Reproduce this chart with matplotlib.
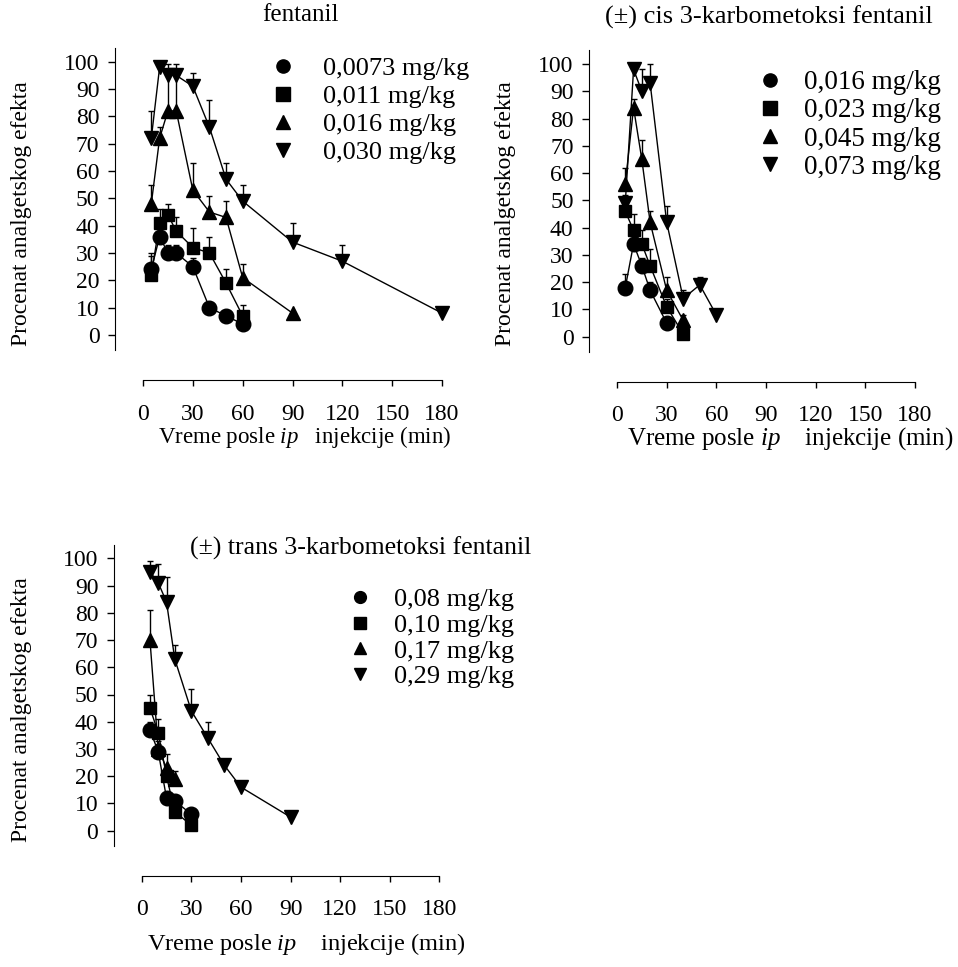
import matplotlib.pyplot as plt
from matplotlib.lines import Line2D

plt.rcParams['font.family'] = ['Liberation Serif', 'DejaVu Serif']
plt.rcParams['mathtext.fontset'] = 'custom'
plt.rcParams['mathtext.rm'] = 'Liberation Serif'
plt.rcParams['mathtext.it'] = 'Liberation Serif:italic'

# fentanil
f_t1 = [5, 10, 15, 20, 30, 40, 50, 60]
f_v1 = [24, 36, 30, 30, 25, 10, 7, 4]
f_e1 = [6, 4, 3, 3, 3, 2, 2, 2]
f_t2 = [5, 10, 15, 20, 30, 40, 50, 60]
f_v2 = [22, 41, 44, 38, 32, 30, 19, 7]
f_e2 = [7, 5, 4, 5, 7, 6, 5, 4]
f_t3 = [5, 10, 15, 20, 30, 40, 50, 60, 90]
f_v3 = [48, 72, 82, 82, 53, 45, 43, 21, 8]
f_e3 = [7, 4, 13, 13, 10, 6, 6, 5, 0]
f_t4 = [5, 10, 15, 20, 30, 40, 50, 60, 90, 120, 180]
f_v4 = [72, 98, 95, 95, 91, 76, 57, 49, 34, 27, 8]
f_e4 = [10, 2, 4, 4, 5, 10, 6, 6, 7, 6, 1]
f_doses = ['0,0073 mg/kg', '0,011 mg/kg', '0,016 mg/kg', '0,030 mg/kg']

# (+-) cis 3-karbometoksi fentanil
c_t1 = [5, 10, 15, 20, 30]
c_v1 = [18, 34, 26, 17, 5]
c_e1 = [5, 3, 3, 3, 2]
c_t2 = [5, 10, 15, 20, 30, 40]
c_v2 = [46, 39, 34, 26, 11, 1]
c_e2 = [5, 6, 5, 6, 3, 1]
c_t3 = [5, 10, 15, 20, 30, 40]
c_v3 = [56, 84, 65, 42, 17, 6]
c_e3 = [6, 3, 7, 4, 5, 2]
c_t4 = [5, 10, 15, 20, 30, 40, 50, 60]
c_v4 = [49, 98, 90, 93, 42, 14, 19, 8]
c_e4 = [3, 2, 8, 7, 6, 3, 3, 1]
c_doses = ['0,016 mg/kg', '0,023 mg/kg', '0,045 mg/kg', '0,073 mg/kg']

# (+-) trans 3-karbometoksi fentanil
t_t1 = [5, 10, 15, 20, 30]
t_v1 = [37, 29, 12, 11, 6]
t_e1 = [3, 3, 2, 2, 2]
t_t2 = [5, 10, 15, 20, 30]
t_v2 = [45, 36, 20, 7, 2]
t_e2 = [5, 5, 3, 3, 1]
t_t3 = [5, 10, 15, 20]
t_v3 = [70, 30, 23, 19]
t_e3 = [11, 3, 5, 3]
t_t4 = [5, 10, 15, 20, 30, 40, 50, 60, 90]
t_v4 = [95, 91, 84, 63, 44, 34, 24, 16, 5]
t_e4 = [4, 7, 9, 5, 8, 6, 2, 2, 1]
t_doses = ['0,08 mg/kg', '0,10 mg/kg', '0,17 mg/kg', '0,29 mg/kg']

xticks = [0, 30, 60, 90, 120, 150, 180]
yticks = list(range(0, 101, 10))
markers = ['o', 's', '^', 'v']
msizes = [10.5, 9, 10.5, 10.5]

W, H = 958, 967
fig = plt.figure(figsize=(W / 100, H / 100), dpi=100)


def make_ax(x0, x180, y0, y100):
    # place axes so that data (0,0) / (180,100) land on the given pixels
    sx = (x180 - x0) / 180.
    sy = (y0 - y100) / 100.
    xl, xr = -17, 185
    yb, yt = -5.5, 105
    left = x0 + xl * sx
    right = x0 + xr * sx
    bottom = y0 - yb * sy
    top = y0 - yt * sy
    ax = fig.add_axes([left / W, 1 - bottom / H, (right - left) / W, (bottom - top) / H])
    ax.set_xlim(xl, xr)
    ax.set_ylim(yb, yt)
    ax.spines['top'].set_visible(False)
    ax.spines['right'].set_visible(False)
    ax.spines['bottom'].set_position(('data', -16.5))
    ax.spines['bottom'].set_bounds(0, 180)
    ax.set_xticks(xticks)
    ax.set_yticks(yticks)
    ax.tick_params(axis='y', direction='out', length=5, width=1, pad=6, labelsize=17)
    ax.tick_params(axis='x', direction='out', length=4, width=1, pad=13, labelsize=17)
    ax.patch.set_visible(False)
    return ax


def draw(ax, series):
    for i, (t, v, e) in enumerate(series):
        ax.errorbar(t, v, yerr=[[0] * len(e), e], color='black', lw=1, elinewidth=1,
                    capsize=2.5, capthick=1, marker=markers[i], ms=msizes[i],
                    mfc='black', mec='black', clip_on=False, zorder=3)


def legend(ax, labels, mx, y, fs=19, ms=9.5, pad=1.0, sp=0.1):
    handles = [Line2D([], [], ls='none', marker=markers[i], color='black', ms=ms)
               for i in range(4)]
    x = mx - fs * 100 / 72 * 0.5
    ax.legend(handles, labels, loc='upper left', bbox_to_anchor=(x / W, 1 - y / H),
              bbox_transform=fig.transFigure, frameon=False, fontsize=fs,
              handlelength=1.0, handletextpad=pad, labelspacing=sp,
              borderpad=0, borderaxespad=0)


ylab = 'Procenat analgetskog efekta'
xlab = r'Vreme posle $\it{ip}$   injekcije (min)'
xlab2 = r'Vreme posle $\it{ip}$    injekcije (min)'

# panel 1
ax1 = make_ax(143, 442, 335, 61.7)
draw(ax1, [(f_t1, f_v1, f_e1), (f_t2, f_v2, f_e2), (f_t3, f_v3, f_e3), (f_t4, f_v4, f_e4)])
legend(ax1, f_doses, 283, 57, sp=0.17)
fig.text(300 / W, 1 - 15 / H, 'fentanil', ha='center', va='center', fontsize=18)
fig.text(22 / W, 1 - 214 / H, ylab, rotation=90, ha='center', va='center', fontsize=17)
fig.text(158 / W, 1 - 437 / H, xlab, ha='left', va='center', fontsize=16.5)

# panel 2
ax2 = make_ax(617, 915, 336.7, 64)
draw(ax2, [(c_t1, c_v1, c_e1), (c_t2, c_v2, c_e2), (c_t3, c_v3, c_e3), (c_t4, c_v4, c_e4)])
legend(ax2, c_doses, 770, 70, fs=19.5, pad=0.75, sp=0.12)
fig.text(605 / W, 1 - 17 / H, u'(\u00b1) cis 3-karbometoksi fentanil', ha='left', va='center', fontsize=19)
fig.text(505 / W, 1 - 214 / H, ylab, rotation=90, ha='center', va='center', fontsize=17)
fig.text(627 / W, 1 - 439 / H, xlab2, ha='left', va='center', fontsize=18)

# panel 3
ax3 = make_ax(141.7, 439.3, 830.7, 558.3)
draw(ax3, [(t_t1, t_v1, t_e1), (t_t2, t_v2, t_e2), (t_t3, t_v3, t_e3), (t_t4, t_v4, t_e4)])
legend(ax3, t_doses, 360, 588, fs=19, ms=8.5, pad=0.8, sp=0.08)
fig.text(190 / W, 1 - 548 / H, u'(\u00b1) trans 3-karbometoksi fentanil', ha='left', va='center', fontsize=18.5)
fig.text(22 / W, 1 - 710 / H, ylab, rotation=90, ha='center', va='center', fontsize=17)
fig.text(147 / W, 1 - 944 / H, xlab2, ha='left', va='center', fontsize=17.6)

fig.savefig('out.png', dpi=100)
